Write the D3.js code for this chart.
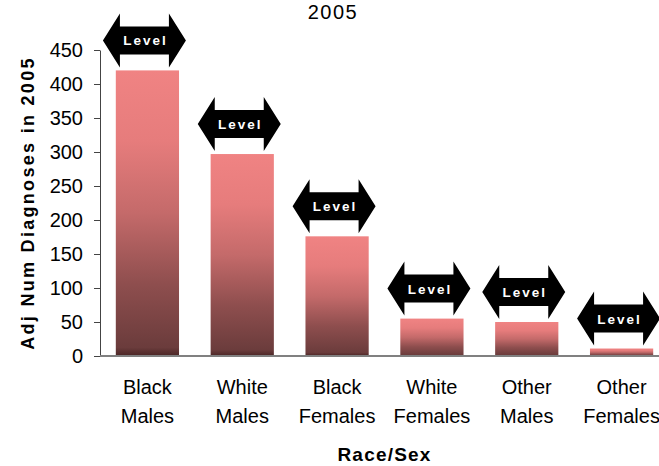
<!DOCTYPE html>
<html>
<head>
<meta charset="utf-8">
<script src="https://cdn.jsdelivr.net/npm/d3@7"></script>
<style>
  body { margin: 0; background: #fff; }
  svg { display: block; font-family: "Liberation Sans", Arial, sans-serif; }
</style>
</head>
<body>
<div id="viz"></div>
<script>
const categories = [
    ['Black', 'Males'],
    ['White', 'Males'],
    ['Black', 'Females'],
    ['White', 'Females'],
    ['Other', 'Males'],
    ['Other', 'Females'],
];
const diagnoses = [420, 297, 176, 55, 50, 11];
const yTicks = [0, 50, 100, 150, 200, 250, 300, 350, 400, 450];
const arrowLabel = 'Level';

const width = 659;
const height = 466;
const margin = { top: 50, right: -10, bottom: 110, left: 100 };
const fontFamily = '"Liberation Sans", Arial, sans-serif';

const svg = d3
    .select('#viz')
    .append('svg')
    .attr('width', width)
    .attr('height', height);

const xScale = d3
    .scaleBand()
    .domain(d3.range(categories.length))
    .range([margin.left, width - margin.right])
    .paddingInner(1 / 3)
    .paddingOuter(1 / 6);

const yScale = d3
    .scaleLinear()
    .domain([0, 450])
    .range([height - margin.bottom, margin.top]);

// gradient for bars
const grad = svg
    .append('defs')
    .append('linearGradient')
    .attr('id', 'barGrad')
    .attr('x1', 0).attr('y1', 0)
    .attr('x2', 0).attr('y2', 1);
[
    ['0%', '#f08383'],
    ['25%', '#e67c7c'],
    ['50%', '#c46a6a'],
    ['75%', '#8e4e4e'],
    ['97%', '#6b3c3c'],
    ['100%', '#4a2525'],
].forEach(([o, c]) => grad.append('stop').attr('offset', o).attr('stop-color', c));

// title (sits at the very top, as in the original)
svg.append('text')
    .attr('x', 333)
    .attr('y', 19)
    .attr('text-anchor', 'middle')
    .attr('font-size', 20)
    .attr('letter-spacing', 1.5)
    .text('2005');

// bars
svg.append('g')
    .selectAll('rect')
    .data(diagnoses)
    .join('rect')
    .attr('x', (d, i) => xScale(i))
    .attr('y', (d) => yScale(d))
    .attr('width', xScale.bandwidth())
    .attr('height', (d) => yScale(0) - yScale(d))
    .attr('fill', 'url(#barGrad)');

// y axis
const yAxis = svg.append('g')
    .attr('transform', `translate(${margin.left},0)`)
    .call(d3.axisLeft(yScale).tickValues(yTicks).tickSize(6).tickSizeOuter(0));
yAxis.select('.domain').attr('stroke', '#444');
yAxis.selectAll('.tick line').attr('stroke', '#444');
yAxis.selectAll('.tick text')
    .attr('font-size', 20)
    .attr('font-family', fontFamily)
    .attr('fill', '#000')
    .attr('x', -17);

// x axis line
svg.append('line')
    .attr('x1', margin.left)
    .attr('x2', width)
    .attr('y1', yScale(0))
    .attr('y2', yScale(0))
    .attr('stroke', '#808080')
    .attr('stroke-width', 2);

// x labels
svg.append('g')
    .selectAll('text')
    .data(categories)
    .join('text')
    .attr('x', (d, i) => xScale(i) + xScale.bandwidth() / 2)
    .attr('y', 394)
    .attr('text-anchor', 'middle')
    .attr('font-size', 20)
    .selectAll('tspan')
    .data((d) => d)
    .join('tspan')
    .attr('x', function () { return this.parentNode.getAttribute('x'); })
    .attr('dy', (d, j) => (j === 0 ? 0 : 29))
    .text((d) => d);

// axis titles
svg.append('text')
    .attr('x', (margin.left + width - margin.right) / 2)
    .attr('y', 461)
    .attr('text-anchor', 'middle')
    .attr('font-size', 19)
    .attr('font-weight', 'bold')
    .attr('letter-spacing', 1.2)
    .text('Race/Sex');

svg.append('text')
    .attr('transform', `translate(34,${(yScale(0) + yScale(450)) / 2}) rotate(-90)`)
    .attr('text-anchor', 'middle')
    .attr('font-size', 18)
    .attr('font-weight', 'bold')
    .attr('letter-spacing', 2.3)
    .text('Adj Num Diagnoses in 2005');

// double-headed "Level" arrows above each bar
const aw = 83, head = 17, hh = 27, bh = 14;
const arrowPath = [
    [-aw / 2, 0], [-aw / 2 + head, -hh], [-aw / 2 + head, -bh],
    [aw / 2 - head, -bh], [aw / 2 - head, -hh], [aw / 2, 0],
    [aw / 2 - head, hh], [aw / 2 - head, bh], [-aw / 2 + head, bh],
    [-aw / 2 + head, hh],
];
const arrows = svg.append('g')
    .selectAll('g')
    .data(diagnoses)
    .join('g')
    .attr('transform', (d, i) =>
        `translate(${xScale(i) + xScale.bandwidth() / 2 - 3},${yScale(d) - 30})`);
arrows.append('path')
    .attr('d', d3.line()(arrowPath) + 'Z')
    .attr('fill', '#000');
arrows.append('text')
    .attr('x', 1)
    .attr('y', 5)
    .attr('text-anchor', 'middle')
    .attr('font-size', 13.5)
    .attr('font-weight', 'bold')
    .attr('letter-spacing', 2)
    .attr('fill', '#fff')
    .text(arrowLabel);
</script>
</body>
</html>
